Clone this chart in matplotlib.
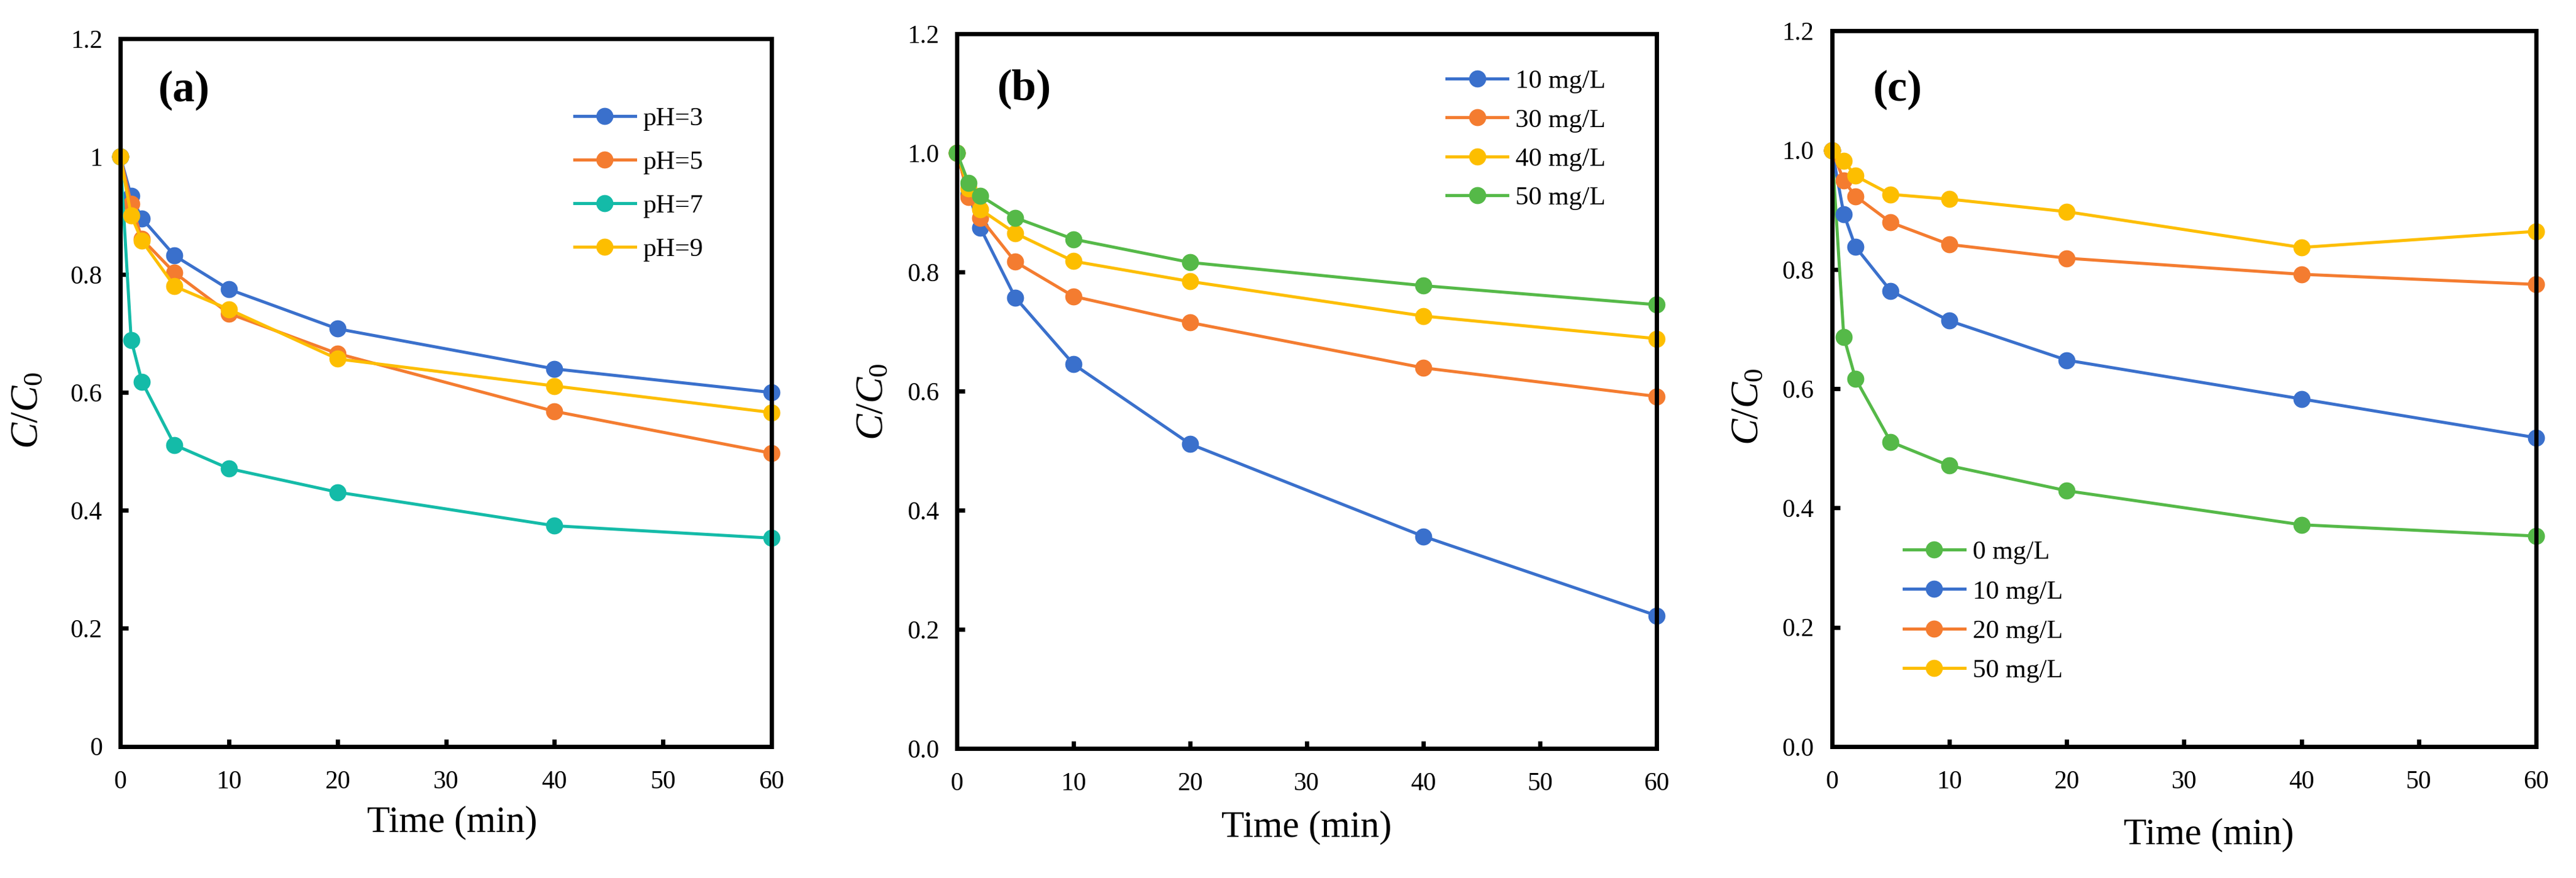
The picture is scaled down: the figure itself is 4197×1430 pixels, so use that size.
import numpy as np
import matplotlib
matplotlib.use('Agg')
import matplotlib.pyplot as plt
from matplotlib.ticker import FormatStrFormatter, FuncFormatter

plt.rcParams['font.family'] = ['Liberation Serif', 'DejaVu Serif']
plt.rcParams['mathtext.fontset'] = 'custom'
plt.rcParams['mathtext.rm'] = 'Liberation Serif'
plt.rcParams['mathtext.it'] = 'Liberation Serif:italic'

# Sampling times (min)
time = [0, 1, 2, 5, 10, 20, 40, 60]

# (a) effect of pH
ph_labels = ['pH=3', 'pH=5', 'pH=7', 'pH=9']
ph3 = [1.0, 0.933, 0.895, 0.832, 0.775, 0.708, 0.640, 0.600]
ph5 = [1.0, 0.920, 0.860, 0.803, 0.734, 0.666, 0.568, 0.497]
ph7 = [1.0, 0.689, 0.618, 0.511, 0.471, 0.431, 0.374, 0.353]
ph9 = [1.0, 0.900, 0.857, 0.780, 0.741, 0.657, 0.611, 0.566]

# (b) effect of initial concentration
conc_labels = ['10 mg/L', '30 mg/L', '40 mg/L', '50 mg/L']
c10 = [1.0, 0.930, 0.874, 0.757, 0.645, 0.511, 0.356, 0.223]
c30 = [1.0, 0.926, 0.891, 0.817, 0.759, 0.715, 0.639, 0.591]
c40 = [1.0, 0.940, 0.905, 0.865, 0.818, 0.784, 0.726, 0.688]
c50 = [1.0, 0.949, 0.928, 0.891, 0.855, 0.816, 0.777, 0.745]

# (c) effect of added substance
add_labels = ['0 mg/L', '10 mg/L', '20 mg/L', '50 mg/L']
a0 = [1.0, 0.687, 0.617, 0.511, 0.471, 0.429, 0.372, 0.353]
a10 = [1.0, 0.893, 0.838, 0.764, 0.714, 0.648, 0.583, 0.518]
a20 = [1.0, 0.949, 0.923, 0.879, 0.842, 0.819, 0.792, 0.775]
a50 = [1.0, 0.982, 0.957, 0.926, 0.918, 0.897, 0.837, 0.864]

blue = '#3A70CC'
orange = '#F47C30'
teal = '#14BBA8'
yellow = '#FDBE00'
green = '#55B948'

fig = plt.figure(figsize=(41.97, 14.30), dpi=100)
ax_a = fig.add_axes([0.0467, 0.1500, 0.2528, 0.806])
ax_b = fig.add_axes([0.3715, 0.1476, 0.2716, 0.814])
ax_c = fig.add_axes([0.7112, 0.1497, 0.2733, 0.815])

panels = [
    (ax_a, [ph3, ph5, ph7, ph9], ph_labels, [blue, orange, teal, yellow], '(a)', 0.927),
    (ax_b, [c10, c30, c40, c50], conc_labels, [blue, orange, yellow, green], '(b)', 0.922),
    (ax_c, [a0, a10, a20, a50], add_labels, [green, blue, orange, yellow], '(c)', 0.918),
]

for ax, series, labels, colors, tag, ty in panels:
    for ys, lab, col in zip(series, labels, colors):
        ax.plot(time, ys, '-o', color=col, lw=3.6, ms=19, label=lab, clip_on=False)
    ax.set_xlim(0, 60)
    ax.set_ylim(0, 1.2)
    ax.set_xticks(np.arange(0, 61, 10))
    ax.set_yticks(np.arange(0, 1.21, 0.2))
    ax.tick_params(direction='in', length=9, width=5, labelsize=30,
                   top=False, right=False)
    ax.tick_params(axis='x', pad=28)
    ax.tick_params(axis='y', pad=21)
    for sp in ax.spines.values():
        sp.set_linewidth(5)
    ax.set_xlabel('Time (min)', fontsize=44)
    ax.set_ylabel(r'$C/C_{\mathit{0}}$', fontsize=46)
    ax.text(0.058, ty, tag, transform=ax.transAxes, fontsize=52,
            fontweight='bold', va='center', ha='left')

ax_a.yaxis.set_major_formatter(FuncFormatter(lambda v, p: '%g' % round(v, 1)))
ax_b.yaxis.set_major_formatter(FormatStrFormatter('%.1f'))
ax_c.yaxis.set_major_formatter(FormatStrFormatter('%.1f'))

ax_a.xaxis.set_label_coords(0.51, -0.084)
ax_b.xaxis.set_label_coords(0.5, -0.087)
ax_c.xaxis.set_label_coords(0.535, -0.100)
ax_a.yaxis.set_label_coords(-0.114, 0.475)
ax_b.yaxis.set_label_coords(-0.094, 0.485)
ax_c.yaxis.set_label_coords(-0.093, 0.475)

leg_kw = dict(frameon=False, fontsize=31, handlelength=2.3, handletextpad=0.3,
              borderaxespad=0, borderpad=0, markerscale=1.0)
ax_a.legend(loc='upper left', bbox_to_anchor=(0.697, 0.904), labelspacing=0.74, **leg_kw)
ax_b.legend(loc='upper left', bbox_to_anchor=(0.700, 0.950), labelspacing=0.56, **leg_kw)
ax_c.legend(loc='upper left', bbox_to_anchor=(0.102, 0.288), labelspacing=0.58, **leg_kw)

fig.savefig('out.png', dpi=100)
